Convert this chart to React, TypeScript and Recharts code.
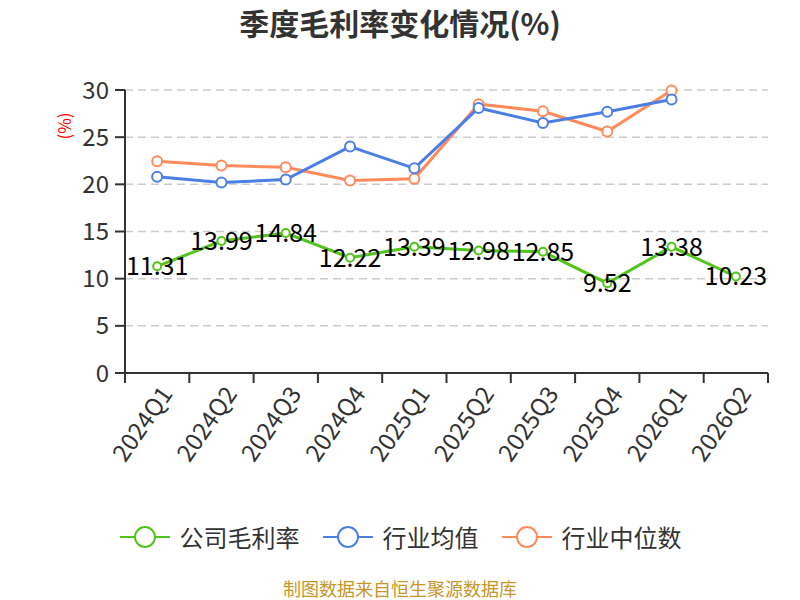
import { LineChart, Line, XAxis, YAxis, CartesianGrid, LabelList } from "recharts";

const quarters = ["2024Q1", "2024Q2", "2024Q3", "2024Q4", "2025Q1", "2025Q2", "2025Q3", "2025Q4", "2026Q1", "2026Q2"];
const companyMargin = [11.31, 13.99, 14.84, 12.22, 13.39, 12.98, 12.85, 9.52, 13.38, 10.23];
const industryAvg = [20.8, 20.2, 20.5, 24.0, 21.7, 28.1, 26.5, 27.7, 29.0, null];
const industryMedian = [22.45, 22.0, 21.8, 20.4, 20.6, 28.5, 27.75, 25.6, 29.95, null];
const yTicks = [0, 5, 10, 15, 20, 25, 30];

const series = [
  { key: "company", name: "公司毛利率", color: "#52c41a" },
  { key: "avg", name: "行业均值", color: "#4b7fe3" },
  { key: "median", name: "行业中位数", color: "#ff8a5b" },
];

const data = quarters.map((q, i) => ({
  quarter: q,
  company: companyMargin[i],
  avg: industryAvg[i],
  median: industryMedian[i],
}));

const FONT = '"Noto Sans CJK SC", "Noto Sans", sans-serif';
const PLOT_LEFT = 125;
const PLOT_RIGHT = 768;
const PLOT_TOP = 90;
const PLOT_BOTTOM = 373;
const HALF_BAND = (PLOT_RIGHT - PLOT_LEFT) / quarters.length / 2;

function QuarterTick({ x, payload, index }: any) {
  const tx = x + 8;
  const ty = PLOT_BOTTOM + 15;
  return (
    <g>
      <line x1={x - HALF_BAND} x2={x - HALF_BAND} y1={PLOT_BOTTOM} y2={PLOT_BOTTOM + 10} stroke="#333" strokeWidth={2} />
      {index === quarters.length - 1 && (
        <line x1={x + HALF_BAND} x2={x + HALF_BAND} y1={PLOT_BOTTOM} y2={PLOT_BOTTOM + 10} stroke="#333" strokeWidth={2} />
      )}
      <text
        x={tx}
        y={ty}
        textAnchor="end"
        dominantBaseline="central"
        transform={`rotate(-55 ${tx} ${ty})`}
        fontSize={24}
        fill="#333"
        fontFamily={FONT}
      >
        {payload.value}
      </text>
    </g>
  );
}

function PointLabel({ x, y, value }: any) {
  return (
    <text x={x} y={y - 2} textAnchor="middle" dominantBaseline="central" fontSize={25} fill="#000" fontFamily={FONT}>
      {value}
    </text>
  );
}

function LegendIcon({ color }: { color: string }) {
  return (
    <svg width={52} height={26} style={{ display: "block" }}>
      <line x1={1} x2={51} y1={13} y2={13} stroke={color} strokeWidth={2} />
      <circle cx={26} cy={13} r={10} fill="#fff" stroke={color} strokeWidth={2} />
    </svg>
  );
}

export default function App() {
  return (
    <div style={{ position: "absolute", left: 0, top: 0, width: 800, height: 600, overflow: "hidden", background: "#fff", fontFamily: FONT }}>
      <div style={{ position: "absolute", top: 2, width: 800, textAlign: "center", fontSize: 30, fontWeight: "bold", color: "#333", lineHeight: "40px" }}>
        季度毛利率变化情况(%)
      </div>
      <LineChart
        width={800}
        height={600}
        data={data}
        margin={{ top: PLOT_TOP, right: 800 - PLOT_RIGHT, left: PLOT_LEFT - 60, bottom: 600 - PLOT_BOTTOM - 100 }}
      >
        <CartesianGrid vertical={false} stroke="#cccccc" strokeDasharray="8 5" strokeWidth={1.5} />
        <XAxis
          dataKey="quarter"
          interval={0}
          height={100}
          padding={{ left: HALF_BAND, right: HALF_BAND }}
          axisLine={{ stroke: "#333", strokeWidth: 2 }}
          tickLine={false}
          tick={<QuarterTick />}
        />
        <YAxis
          width={60}
          domain={[0, 30]}
          ticks={yTicks}
          interval={0}
          axisLine={{ stroke: "#333", strokeWidth: 2 }}
          tickLine={{ stroke: "#333", strokeWidth: 2 }}
          tickSize={10}
          tickMargin={6}
          tick={{ fontSize: 24, fill: "#333", fontFamily: FONT }}
          label={{
            content: () => (
              <text
                x={63}
                y={126}
                textAnchor="middle"
                dominantBaseline="central"
                transform="rotate(-90 63 126)"
                fontSize={17}
                fill="#ff0000"
                fontFamily={FONT}
              >
                (%)
              </text>
            ),
          }}
        />
        <Line
          dataKey="median"
          stroke="#ff8a5b"
          strokeWidth={3}
          dot={{ r: 5, fill: "#fff", stroke: "#ff8a5b", strokeWidth: 2 }}
          isAnimationActive={false}
        />
        <Line
          dataKey="avg"
          stroke="#4b7fe3"
          strokeWidth={3}
          dot={{ r: 5, fill: "#fff", stroke: "#4b7fe3", strokeWidth: 2 }}
          isAnimationActive={false}
        />
        <Line
          dataKey="company"
          stroke="#52c41a"
          strokeWidth={3}
          dot={{ r: 4, fill: "#fff", stroke: "#52c41a", strokeWidth: 2 }}
          isAnimationActive={false}
        >
          <LabelList dataKey="company" content={<PointLabel />} />
        </Line>
      </LineChart>
      <div style={{ position: "absolute", top: 524, left: 0, width: 800, display: "flex", justifyContent: "center", gap: 22 }}>
        {series.map((s) => (
          <div key={s.key} style={{ display: "flex", alignItems: "center", gap: 9, fontSize: 24, color: "#333", lineHeight: "26px" }}>
            <LegendIcon color={s.color} />
            <span>{s.name}</span>
          </div>
        ))}
      </div>
      <div style={{ position: "absolute", top: 578, width: 800, textAlign: "center", fontSize: 18, color: "#c8962a", lineHeight: "20px" }}>
        制图数据来自恒生聚源数据库
      </div>
    </div>
  );
}
